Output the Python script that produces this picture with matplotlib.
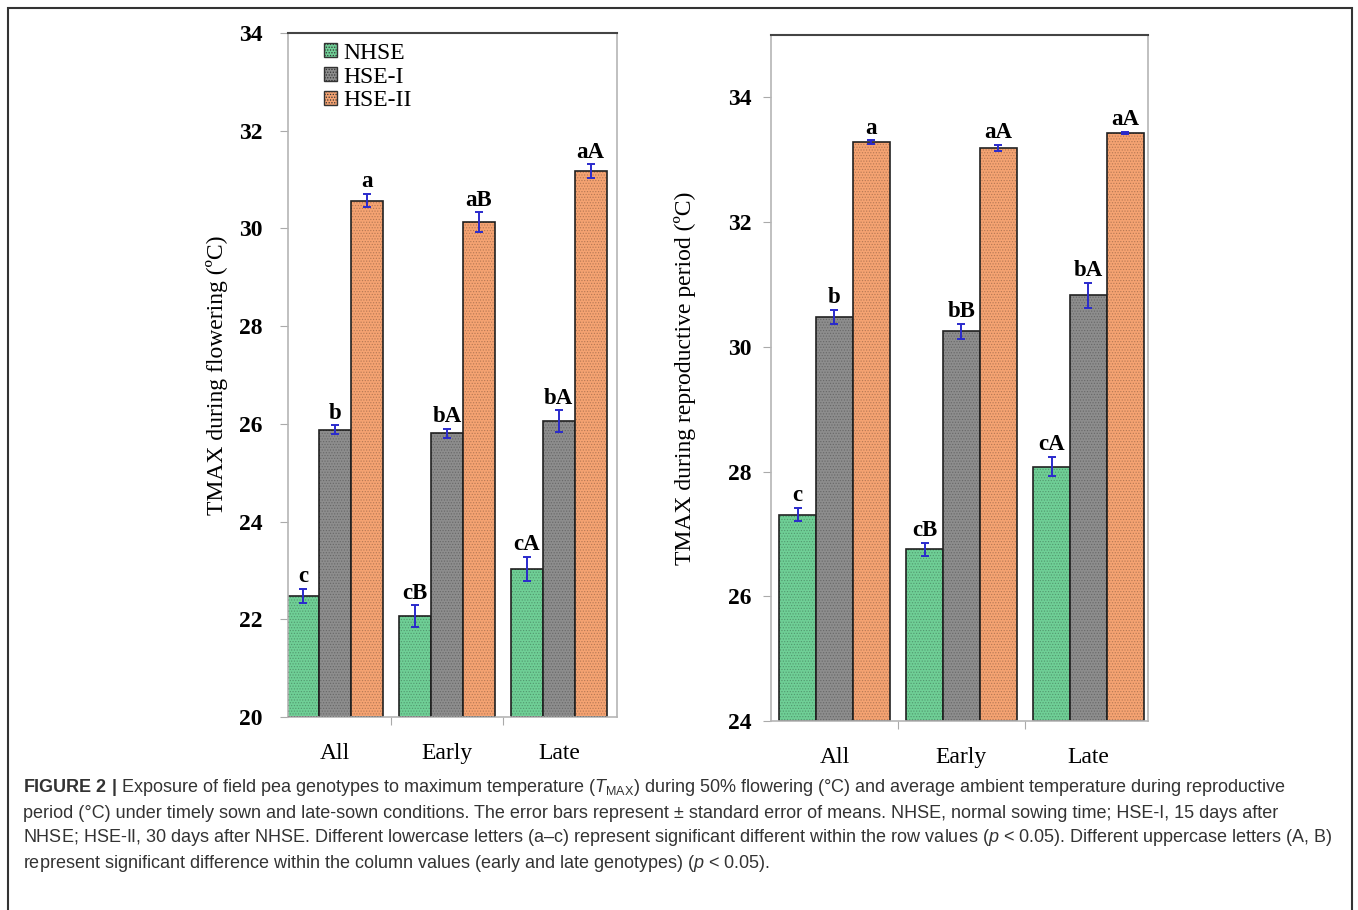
import numpy as np
import matplotlib.pyplot as plt
from matplotlib import font_manager
from matplotlib.patches import Rectangle, Patch

# data
groups = ['All', 'Early', 'Late']
series = ['NHSE', 'HSE-I', 'HSE-II']

flower_nhse = [22.48, 22.07, 23.03]
flower_hse1 = [25.88, 25.81, 26.06]
flower_hse2 = [30.57, 30.13, 31.17]
flower_err_nhse = [0.15, 0.22, 0.25]
flower_err_hse1 = [0.09, 0.09, 0.22]
flower_err_hse2 = [0.14, 0.2, 0.14]
flower_lab_nhse = ['c', 'cB', 'cA']
flower_lab_hse1 = ['b', 'bA', 'bA']
flower_lab_hse2 = ['a', 'aB', 'aA']

repro_nhse = [27.31, 26.75, 28.08]
repro_hse1 = [30.48, 30.25, 30.83]
repro_hse2 = [33.28, 33.19, 33.43]
repro_err_nhse = [0.1, 0.1, 0.15]
repro_err_hse1 = [0.11, 0.12, 0.2]
repro_err_hse2 = [0.03, 0.05, 0.02]
repro_lab_nhse = ['c', 'cB', 'cA']
repro_lab_hse1 = ['b', 'bB', 'bA']
repro_lab_hse2 = ['a', 'aA', 'aA']

colors = ['#6fcf96', '#8d8d8d', '#f5a372']

installed = {f.name for f in font_manager.fontManager.ttflist}
serif = 'Liberation Serif'
cap_font = 'Liberation Sans Narrow' if 'Liberation Sans Narrow' in installed else 'Liberation Sans'

plt.rcParams['font.family'] = serif
plt.rcParams['mathtext.fontset'] = 'custom'
plt.rcParams['mathtext.rm'] = cap_font
plt.rcParams['mathtext.it'] = cap_font + ':italic'
plt.rcParams['mathtext.bf'] = cap_font + ':bold'
plt.rcParams['hatch.linewidth'] = 0.6

fig = plt.figure(figsize=(13.58, 9.10), dpi=100)


def draw_panel(ax, vals, errs, labs, ylim, yticks, ylabel, width, xlim, tickpad, labpad):
    x = np.arange(len(groups))
    for i in range(3):
        pos = x + (i - 1) * width
        ax.bar(pos, np.array(vals[i]) - ylim[0], width, bottom=ylim[0],
               color=colors[i], edgecolor='#222222', linewidth=1.2, zorder=2)
        ax.bar(pos, np.array(vals[i]) - ylim[0], width, bottom=ylim[0],
               facecolor='none', edgecolor=(0, 0, 0, 0.22), hatch='......',
               linewidth=0, zorder=3)
        ax.errorbar(pos, vals[i], yerr=errs[i], fmt='none', ecolor='#2a2acc',
                    elinewidth=1.4, capsize=3, capthick=1.4, zorder=4)
        for p, v, e, t in zip(pos, vals[i], errs[i], labs[i]):
            ax.text(p, v + e + 0.03, t, ha='center', va='bottom',
                    fontsize=16.5, fontweight='bold', zorder=5)
    ax.set_ylim(*ylim)
    ax.set_xlim(*xlim)
    ax.set_yticks(yticks)
    ax.set_yticklabels([str(t) for t in yticks], fontsize=17, fontweight='bold')
    ax.set_xticks([0.5, 1.5])
    ax.set_xticklabels([])
    ax.tick_params(axis='x', length=6, color='#aaaaaa')
    ax.tick_params(axis='y', length=6, color='#aaaaaa', pad=tickpad)
    ax.set_ylabel(ylabel, fontsize=17, labelpad=labpad)
    for i, g in enumerate(groups):
        ax.text(i, -0.038, g, transform=ax.get_xaxis_transform(), ha='center',
                va='top', fontsize=17)
    for s in ['left', 'bottom', 'right']:
        ax.spines[s].set_color('#b5b5b5')
        ax.spines[s].set_linewidth(1.2)
    ax.spines['top'].set_color('#444444')
    ax.spines['top'].set_linewidth(1.5)


ax1 = fig.add_axes([288 / 1358, 1 - 717 / 910, 329 / 1358, 684 / 910])
draw_panel(ax1, [flower_nhse, flower_hse1, flower_hse2],
           [flower_err_nhse, flower_err_hse1, flower_err_hse2],
           [flower_lab_nhse, flower_lab_hse1, flower_lab_hse2],
           (20, 34), [20, 22, 24, 26, 28, 30, 32, 34],
           'TMAX during flowering (ºC)', 0.285, (-0.42, 2.52), 12, 8)

handles = [Patch(facecolor=c, edgecolor='#333333', hatch='......') for c in colors]
leg = ax1.legend(handles, series, loc='upper left', bbox_to_anchor=(0.06, 1.01),
                 frameon=False, fontsize=17, handlelength=0.55, handleheight=0.55,
                 handletextpad=0.25, labelspacing=0.12, borderaxespad=0.3)

ax2 = fig.add_axes([771 / 1358, 1 - 721 / 910, 377 / 1358, 686 / 910])
draw_panel(ax2, [repro_nhse, repro_hse1, repro_hse2],
           [repro_err_nhse, repro_err_hse1, repro_err_hse2],
           [repro_lab_nhse, repro_lab_hse1, repro_lab_hse2],
           (24, 35), [24, 26, 28, 30, 32, 34],
           'TMAX during reproductive period (ºC)', 0.29, (-0.5, 2.47), 8, 23)

# outer frame of the figure panel
fig.add_artist(Rectangle((8 / 1358, -0.05), 1344 / 1358, 1.05 - 8 / 910,
                         transform=fig.transFigure, fill=False,
                         edgecolor='#333333', linewidth=1.5))

caption = [
    r'$\mathbf{FIGURE\ 2\ |}$ Exposure of field pea genotypes to maximum temperature ($T_{\rm MAX}$) '
    'during 50% flowering (°C) and average ambient temperature during reproductive',
    'period (°C) under timely sown and late-sown conditions. The error bars represent ± standard '
    'error of means. NHSE, normal sowing time; HSE-I, 15 days after',
    'NHSE; HSE-II, 30 days after NHSE. Different lowercase letters (a–c) represent significant '
    r'different within the row values ($p$ < 0.05). Different uppercase letters (A, B)',
    r'represent significant difference within the column values (early and late genotypes) ($p$ < 0.05).',
]
for k, line in enumerate(caption):
    fig.text(23 / 1358, 1 - (788 + 25 * k) / 910, line, family=cap_font,
             fontsize=13, color='#333333', va='center', ha='left')

fig.savefig('out.png', dpi=100)
